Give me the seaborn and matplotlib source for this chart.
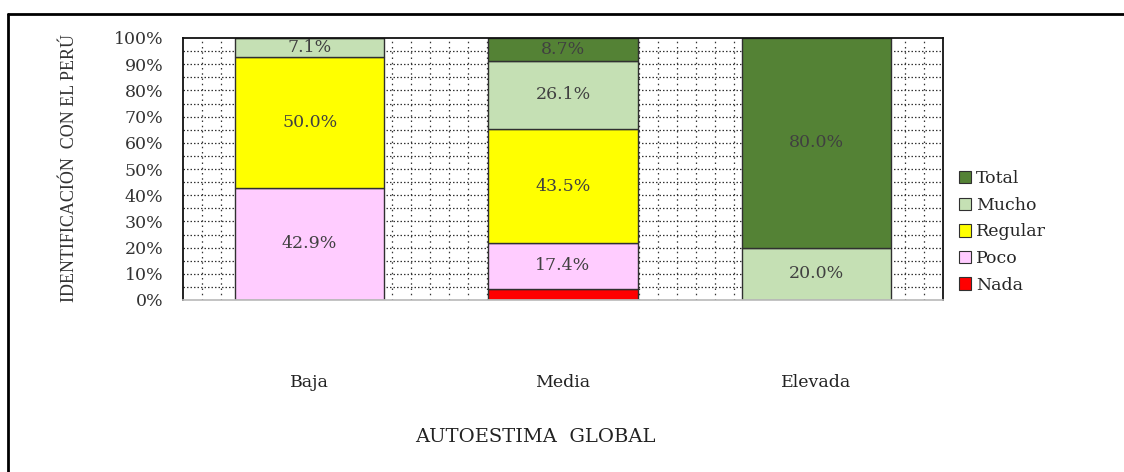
import numpy as np
import pandas as pd
import matplotlib
matplotlib.use("Agg")
import matplotlib.pyplot as plt
import seaborn as sns
from matplotlib.lines import Line2D

categories = ["Baja", "Media", "Elevada"]
series = ["Nada", "Poco", "Regular", "Mucho", "Total"]
nada = [0.0, 4.3, 0.0]
poco = [42.9, 17.4, 0.0]
regular = [50.0, 43.5, 0.0]
mucho = [7.1, 26.1, 20.0]
total = [0.0, 8.7, 80.0]
colors = ["#FF0000", "#FFCCFF", "#FFFF00", "#C5E0B4", "#548235"]
yticks = [0, 10, 20, 30, 40, 50, 60, 70, 80, 90, 100]
ylabel = "IDENTIFICACIÓN  CON EL PERÚ"
xlabel = "AUTOESTIMA  GLOBAL"

sns.set_theme(style="white")
plt.rcParams["font.family"] = ["DejaVu Serif", "Liberation Serif"]

fig = plt.figure(figsize=(11.24, 4.72), dpi=100)
ax = fig.add_axes([183 / 1124, 1 - 300 / 472, 760 / 1124, 262 / 472])

# dotted grid background
for y in np.arange(5, 100, 5):
    ax.axhline(y, color="#333333", lw=0.9, ls=(0, (1.2, 1.6)), zorder=0)
for x in np.linspace(-0.5, 2.5, 41)[1:-1]:
    ax.axvline(x, color="#333333", lw=0.9, ls=(0, (1.2, 3.0)), zorder=0)

data = [nada, poco, regular, mucho, total]
bottom = np.zeros(len(categories))
for name, vals, col in zip(series, data, colors):
    df = pd.DataFrame({"cat": categories, "val": vals})
    sns.barplot(data=df, x="cat", y="val", bottom=bottom, color=col,
                saturation=1, width=0.59, edgecolor="#303030", linewidth=1.0,
                ax=ax, zorder=2, err_kws={"linewidth": 0})
    for i, v in enumerate(vals):
        if v >= 5:
            ax.text(i, bottom[i] + v / 2, f"{v:.1f}%", ha="center", va="center",
                    fontsize=12.5, color="#404040", zorder=3)
    bottom = bottom + np.array(vals)

ax.set_xlim(-0.5, 2.5)
ax.set_ylim(0, 100)
ax.set_yticks(yticks)
ax.set_yticklabels([f"{t}%" for t in yticks], fontsize=12.5, color="#333333")
ax.tick_params(axis="y", length=0, pad=14)
ax.tick_params(axis="x", length=0, pad=53, labelsize=12.5, labelcolor="#222222")
ax.set_xlabel("")
ax.set_ylabel("")
for s in ["left", "right", "top"]:
    ax.spines[s].set_color("#111111")
    ax.spines[s].set_linewidth(1.3)
ax.spines["bottom"].set_color("#bbbbbb")

fig.text(70 / 1124, 1 - 168 / 472, ylabel, rotation=90, ha="center", va="center",
         fontsize=13, color="#333333", family=["Liberation Serif"])
fig.text(535 / 1124, 1 - 437 / 472, xlabel, ha="center", va="center",
         fontsize=14, color="#222222")

handles = [plt.Rectangle((0, 0), 1, 1, facecolor=c, edgecolor="#303030", lw=0.8)
           for c in colors][::-1]
fig.legend(handles, series[::-1], loc="center left",
           bbox_to_anchor=(952 / 1124, 1 - 232 / 472), frameon=False,
           fontsize=12.5, handlelength=0.7, handleheight=0.7, handletextpad=0.3,
           labelspacing=0.55, borderaxespad=0)

fig.add_artist(Line2D([8 / 1124, 1], [1 - 14 / 472, 1 - 14 / 472], color="black", lw=2))
fig.add_artist(Line2D([8 / 1124, 8 / 1124], [0, 1 - 14 / 472], color="black", lw=2))

fig.savefig("out.png", dpi=100)
